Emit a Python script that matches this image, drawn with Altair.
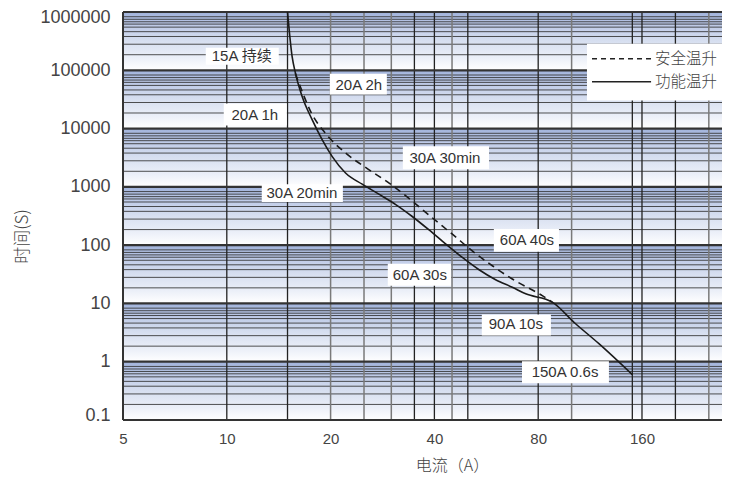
import altair as alt
import pandas as pd

# ---------------- data ----------------
# 功能温升 (solid curve): current (A), time (s)
solid_x = [15, 15.47, 15.82, 16.54, 17.68, 18.9, 20.2, 22.1, 24.7, 27.6, 30.9, 34.5,
           38.6, 43.1, 48.2, 53.9, 60.2, 67.3, 73.6, 87.9, 102.7, 120, 150]
solid_y = [1000000, 171000, 88500, 35400, 14200, 6450, 3340, 1730, 1112, 751, 497, 310,
           182, 105, 61.4, 37.8, 25.5, 18.9, 14.6, 10.5, 4.48, 2.04, 0.6]
# 安全温升 (dashed curve)
dashed_x = [15.8, 16.2, 17.6, 19.3, 22.1, 25.8, 29.5, 34.5, 39.4, 45.1, 51.5, 58.9,
            67.3, 82.2, 87.9]
dashed_y = [88500, 59700, 18400, 8360, 3810, 1980, 1170, 570, 296, 154, 79.8, 44.3,
            26.2, 13.6, 10.5]

# annotation labels (text centre and white box extents, in data units)
label_text = ["15A 持续", "20A 2h", "20A 1h", "30A 30min", "30A 20min",
              "60A 40s", "60A 30s", "90A 10s", "150A 0.6s"]
label_x = [11.05, 24.15, 12.06, 42.9, 16.51, 74.2, 36.3, 68.9, 95.7]
label_y = [174000, 56700, 17400, 3090, 781, 123, 31.1, 4.35, 0.66]
box_x1 = [8.69, 19.9, 9.8, 32.4, 12.63, 59.5, 29.3, 54.9, 71.8]
box_x2 = [14.15, 29.12, 14.93, 57.6, 21.71, 91.9, 44.7, 87.1, 128.3]
box_y1 = [124500, 38300, 11300, 2000, 548, 76.8, 20.2, 2.83, 0.429]
box_y2 = [243000, 87400, 26900, 4950, 1110, 190, 47.9, 6.45, 1.02]

# legend
legend_names = ["安全温升", "功能温升"]
legend_box_x = [110.8, 273]
legend_box_y = [30200, 284000]
legend_line_x = [114.6, 170]
legend_row_y = [157600, 63800]
legend_text_x = 174.5

# axes / grid
x_ticks = [5, 10, 20, 40, 80, 160]
y_ticks = [0.1, 1, 10, 100, 1000, 10000, 100000, 1000000]
minor_mult = [1.85, 2.8, 3.8, 4.6, 5.5, 6.2, 6.8, 7.5, 8.3]
v_dark = [10, 15, 35, 40, 50, 80, 150, 160, 200]
v_light = [20, 25, 30, 45, 100, 250]

# ---------------- build tables ----------------
W, H = 599, 408
LAT = "Liberation Sans, Arial, Noto Sans CJK SC, sans-serif"
CJK = "Noto Sans CJK SC, sans-serif"

xs = alt.Scale(type="log", domain=[5, 273], nice=False)
ys = alt.Scale(type="log", domain=[0.1, 1000000], nice=False)

bands = pd.DataFrame({"lo": y_ticks[:-1], "hi": y_ticks[1:]})
minor = pd.DataFrame({"y": [d * m for d in y_ticks[:-1] for m in minor_mult]})
major = pd.DataFrame({"y": y_ticks})
vdark = pd.DataFrame({"x": v_dark})
vlight = pd.DataFrame({"x": v_light})
border = pd.DataFrame({"x": [x_ticks[0]]})
solid = pd.DataFrame({"x": solid_x, "y": solid_y})
dashed = pd.DataFrame({"x": dashed_x, "y": dashed_y})
labels = pd.DataFrame({"t": label_text, "x": label_x, "y": label_y,
                       "x1": box_x1, "x2": box_x2, "y1": box_y1, "y2": box_y2})
leg_box = pd.DataFrame({"x1": [legend_box_x[0]], "x2": [legend_box_x[1]],
                        "y1": [legend_box_y[0]], "y2": [legend_box_y[1]]})
leg_rows = pd.DataFrame({"name": legend_names, "y": legend_row_y,
                         "x1": [legend_line_x[0]] * 2, "x2": [legend_line_x[1]] * 2,
                         "tx": [legend_text_x] * 2})

grad = alt.LinearGradient(
    gradient="linear", x1=0, x2=0, y1=0, y2=1,
    stops=[alt.GradientStop(color="#a1b3db", offset=0),
           alt.GradientStop(color="#c0cce8", offset=0.25),
           alt.GradientStop(color="#d7dff0", offset=0.5),
           alt.GradientStop(color="#ebeff8", offset=0.78),
           alt.GradientStop(color="#ffffff", offset=1)])

y_axis = alt.Axis(values=y_ticks, format=".1~f",
                  grid=False, ticks=False, domain=False,
                  labelFont=LAT, labelFontSize=18, labelColor="#444", labelPadding=13,
                  labelFontWeight="normal",
                  labelFlush=True, labelFlushOffset=4,
                  title="时间(S)", titleFont=CJK, titleFontSize=17,
                  titleFontWeight=300, titleColor="#444",
                  titleX=-101, titleY=224,
                  titleAlign="center", titleBaseline="middle")
x_axis = alt.Axis(values=x_ticks, format="d", grid=False, ticks=False, domain=False,
                  labelFont=LAT, labelFontSize=15, labelColor="#444", labelPadding=11,
                  labelFontWeight="normal", labelFlush=False,
                  title="电流（A）", titleFont=CJK, titleFontSize=16,
                  titleFontWeight=300, titleColor="#444",
                  titleX=329, titleY=45, titleAlign="center", titleBaseline="middle")


def X(f):
    return alt.X(f, type="quantitative", scale=xs, axis=x_axis)


def Y(f):
    return alt.Y(f, type="quantitative", scale=ys, axis=y_axis)


bg = alt.Chart(bands).mark_rect(fill=grad).encode(
    y=Y("hi"), y2="lo:Q", x=alt.value(0), x2=alt.value(W))

minor_l = alt.Chart(minor).mark_rule(color="#333", strokeWidth=1, opacity=0.85).encode(y=Y("y"))

vl = alt.Chart(vlight).mark_rule(color="#7a7a7a", strokeWidth=1.5).encode(x=X("x"))
vd = alt.Chart(vdark).mark_rule(color="#222", strokeWidth=1.3).encode(x=X("x"))

major_l = alt.Chart(major).mark_rule(color="#333", strokeWidth=2.2).encode(y=Y("y"))
left_border = alt.Chart(border).mark_rule(color="#333", strokeWidth=2).encode(x=X("x"))

solid_l = alt.Chart(solid).mark_line(color="#1a1a1a", strokeWidth=1.6,
                                     interpolate="monotone").encode(x=X("x"), y=Y("y"))
dashed_l = alt.Chart(dashed).mark_line(color="#1a1a1a", strokeWidth=1.6, strokeDash=[7, 5],
                                       interpolate="monotone").encode(x=X("x"), y=Y("y"))

boxes = alt.Chart(labels).mark_rect(fill="white").encode(
    x=X("x1"), x2="x2:Q", y=Y("y1"), y2="y2:Q")
texts = alt.Chart(labels).mark_text(font=LAT, fontSize=15, color="#333").encode(
    x=X("x"), y=Y("y"), text="t:N")

lbox = alt.Chart(leg_box).mark_rect(fill="white").encode(
    x=X("x1"), x2="x2:Q", y=Y("y1"), y2="y2:Q")
lrow_d = alt.Chart(leg_rows).transform_filter(alt.datum.name == legend_names[0]).mark_rule(
    color="#222", strokeWidth=1.5, strokeDash=[5, 4]).encode(x=X("x1"), x2="x2:Q", y=Y("y"))
lrow_s = alt.Chart(leg_rows).transform_filter(alt.datum.name == legend_names[1]).mark_rule(
    color="#222", strokeWidth=1.5).encode(x=X("x1"), x2="x2:Q", y=Y("y"))
ltext = alt.Chart(leg_rows).mark_text(font=CJK, fontSize=15.5, fontWeight=300, color="#444",
                                      align="left").encode(x=X("tx"), y=Y("y"), text="name:N")

chart = alt.layer(bg, minor_l, vl, vd, major_l, left_border, solid_l, dashed_l,
                  boxes, texts, lbox, lrow_d, lrow_s, ltext).properties(
    width=W, height=H,
    padding={"left": 115, "top": 4, "right": 0, "bottom": 59},
    autosize=alt.AutoSizeParams(type="none"),
    background="white",
).configure_view(stroke=None)

chart.save("out.html", embed_options={"renderer": "svg", "actions": False})
